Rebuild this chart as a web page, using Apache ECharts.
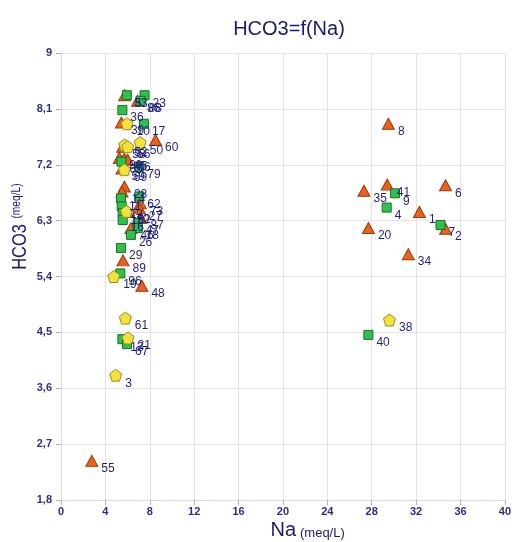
<!DOCTYPE html>
<html>
<head>
<meta charset="utf-8">
<script src="https://cdn.jsdelivr.net/npm/echarts@6/dist/echarts.min.js"></script>
<style>
html,body{margin:0;padding:0;background:#fff;}
#chart{width:514px;height:542px;}
</style>
</head>
<body>
<div id="chart"></div>
<script>
// ---- Data (Na meq/L, HCO3 meq/L, sample id) ----
const triNa    = [32.3, 34.65, 34.65, 29.5, 27.7, 31.3, 27.3, 29.4, 2.78, 7.29, 8.52, 5.44, 6.9, 5.74, 5.59, 5.56, 5.26, 5.71, 6.01, 5.50, 5.71, 5.50, 7.15, 7.06, 6.01, 7.20, 6.30];
const triHco3  = [6.44, 6.17, 6.87, 7.86, 6.18, 5.76, 6.78, 6.88, 2.43, 5.25, 7.60, 7.88, 8.23, 8.32, 5.66, 7.49, 7.31, 7.30, 7.28, 7.14, 6.85, 6.77, 6.58, 6.50, 6.44, 6.34, 6.18];
const triIds   = ['1','2','6','8','20','34','35','41','55','48','60','39','86','33','89','58','90','45','66','59','28','14','73','27','22','87','46'];

const sqNa     = [29.35, 30.1, 34.2, 27.7, 5.93, 7.53, 7.17, 5.53, 7.47, 5.45, 7.06, 7.06, 5.41, 5.47, 5.56, 5.56, 6.91, 6.91, 6.30, 5.41, 5.35, 5.53, 5.95];
const sqHco3   = [6.51, 6.74, 6.23, 4.46, 8.32, 8.32, 8.23, 8.08, 7.86, 7.25, 7.17, 6.69, 6.66, 6.53, 6.42, 6.31, 6.26, 6.18, 6.07, 5.86, 5.45, 4.39, 4.31];
const sqIds    = ['4','9','7','40','5','23','88','36','17','65','79','62','11','12','15','16','47','18','26','29','96','13','67'];

const penNa    = [29.6, 4.93, 5.8, 6.04, 4.75, 5.95, 7.14, 5.74, 6.01, 5.71, 5.90];
const penHco3  = [4.70, 3.81, 4.73, 4.41, 5.40, 7.86, 7.56, 7.52, 7.49, 7.12, 6.45];
const penIds   = ['38','3','61','21','19','10','50','52','56','69','70'];

const xTicks = [0, 4, 8, 12, 16, 20, 24, 28, 32, 36, 40];
const yTicks = ['1,8','2,7','3,6','4,5','5,4','6,3','7,2','8,1','9'];

function build(xs, ys, ids) {
  return xs.map((x, i) => ({ value: [x, ys[i]], name: ids[i] }));
}

const navy = '#1f1f7a';
const pentagon = 'path://M0,-10 L9.51,-3.09 L5.88,8.09 L-5.88,8.09 L-9.51,-3.09 Z';

const labelCfg = {
  show: true,
  position: 'right',
  distance: 3,
  offset: [0, 8],
  formatter: p => p.name,
  color: navy,
  fontSize: 12,
  fontFamily: 'Liberation Sans, Arial, sans-serif'
};

const chart = echarts.init(document.getElementById('chart'), null, { renderer: 'canvas' });
chart.setOption({
  animation: false,
  backgroundColor: '#ffffff',
  title: {
    text: 'HCO3=f(Na)',
    left: 284,
    textAlign: 'center',
    top: 14,
    textStyle: { color: '#1a1a6e', fontSize: 20, fontWeight: 'normal', fontFamily: 'Liberation Sans, Arial, sans-serif' }
  },
  grid: { left: 61, right: 7, top: 53, bottom: 42, containLabel: false },
  xAxis: {
    type: 'value', min: 0, max: 40, interval: 4,
    axisLine: { show: true, lineStyle: { color: '#dcdcdc' } },
    axisTick: { show: true, length: 5, lineStyle: { color: '#d9a3a3' } },
    axisLabel: { margin: 6, color: '#2e2e80', fontSize: 11, fontWeight: 'bold', fontFamily: 'Liberation Sans, Arial, sans-serif',
      formatter: v => String(xTicks[Math.round(v / 4)]) },
    splitLine: { show: true, lineStyle: { color: '#e4e4e4' } }
  },
  yAxis: {
    type: 'value', min: 1.8, max: 9, interval: 0.9,
    axisLine: { show: true, lineStyle: { color: '#dcdcdc' } },
    axisTick: { show: true, length: 5, lineStyle: { color: '#d9a3a3' } },
    axisLabel: { margin: 9, color: '#2e2e80', fontSize: 11, fontWeight: 'bold', fontFamily: 'Liberation Sans, Arial, sans-serif',
      formatter: v => yTicks[Math.round((v - 1.8) / 0.9)] },
    splitLine: { show: true, lineStyle: { color: '#e4e4e4' } }
  },
  graphic: [
    { type: 'text', x: 20, y: 247, rotation: Math.PI / 2, scaleX: 0.78,
      style: { text: 'HCO3', fontSize: 21, fill: '#1a1a6e', align: 'center', verticalAlign: 'middle', fontFamily: 'Liberation Sans, Arial, sans-serif' } },
    { type: 'text', x: 17, y: 201, rotation: Math.PI / 2, scaleX: 0.85,
      style: { text: '(meq/L)', fontSize: 12, fill: '#1a1a6e', align: 'center', verticalAlign: 'middle', fontFamily: 'Liberation Sans, Arial, sans-serif' } },
    { type: 'text', x: 296, y: 530,
      style: { text: 'Na', fontSize: 20, fill: '#1a1a6e', align: 'right', verticalAlign: 'middle', fontFamily: 'Liberation Sans, Arial, sans-serif' } },
    { type: 'text', x: 300, y: 533,
      style: { text: '(meq/L)', fontSize: 13, fill: '#1a1a6e', align: 'left', verticalAlign: 'middle', fontFamily: 'Liberation Sans, Arial, sans-serif' } }
  ],
  series: [
    {
      type: 'scatter', name: 'tri', symbol: 'triangle', symbolSize: [12, 11],
      itemStyle: { color: '#e8621c', borderColor: '#9a3a0c', borderWidth: 1, opacity: 1 },
      label: labelCfg,
      data: build(triNa, triHco3, triIds)
    },
    {
      type: 'scatter', name: 'sq', symbol: 'rect', symbolSize: 9,
      itemStyle: { color: '#2fc24a', borderColor: '#1a6e28', borderWidth: 1, opacity: 1 },
      label: labelCfg,
      data: build(sqNa, sqHco3, sqIds)
    },
    {
      type: 'scatter', name: 'pen', symbol: pentagon, symbolSize: 12,
      itemStyle: { color: '#f3e23a', borderColor: '#9c8c1c', borderWidth: 1, opacity: 1 },
      label: labelCfg,
      data: build(penNa, penHco3, penIds)
    }
  ]
});
</script>
</body>
</html>
